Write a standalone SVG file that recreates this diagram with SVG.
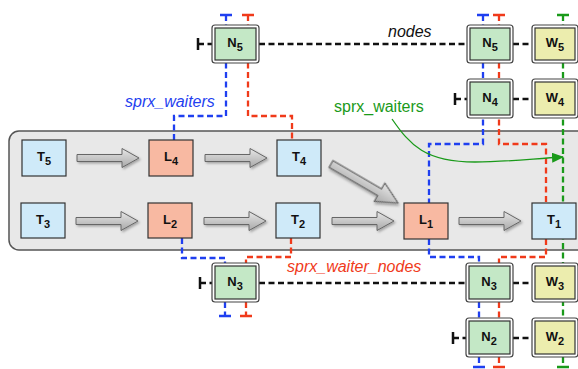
<svg xmlns="http://www.w3.org/2000/svg" width="578" height="369" viewBox="0 0 578 369">
  <defs>
    <linearGradient id="arrowFill" x1="0" y1="0" x2="0" y2="1">
      <stop offset="0" stop-color="#e6e6e6"/>
      <stop offset="1" stop-color="#a9a9a9"/>
    </linearGradient>
    <filter id="shadow" x="-20%" y="-30%" width="150%" height="170%">
      <feDropShadow dx="1.5" dy="1.5" stdDeviation="1" flood-color="#000" flood-opacity="0.3"/>
    </filter>
    <path id="blockArrow" d="M0,-3.5 H45 V-9.5 L62,0 L45,9.5 V3.5 H0 Z"/>
    <marker id="greenHead" viewBox="0 0 12 10" refX="11" refY="5" markerWidth="12" markerHeight="10" markerUnits="userSpaceOnUse" orient="auto">
      <path d="M0,0 L12,5 L0,10 Z" fill="#1a9a1a"/>
    </marker>
  </defs>
  <style>
    .lbl { font-family: "Liberation Sans", Arial, sans-serif; font-size: 13px; fill: #111; text-anchor: middle; font-weight: bold; }
    .sub { font-size: 11px; }
    .tbox { fill: #cfeaf9; stroke: #333; stroke-width: 1.2; }
    .lbox { fill: #f8b9a2; stroke: #333; stroke-width: 1.2; }
    .outer { fill: #fff; stroke: #444; stroke-width: 1.2; }
    .nbox { fill: #c4e8c6; stroke: #333; stroke-width: 1.2; }
    .wbox { fill: #ecedae; stroke: #333; stroke-width: 1.2; }
    .dk { fill: none; stroke: #111; stroke-width: 2.3; stroke-dasharray: 6 3.5; }
    .bl { fill: none; stroke: #1f3ff0; stroke-width: 2.3; stroke-dasharray: 6 3.5; }
    .rd { fill: none; stroke: #f03a1a; stroke-width: 2.3; stroke-dasharray: 6 3.5; }
    .gr { fill: none; stroke: #1a9a1a; stroke-width: 2.3; stroke-dasharray: 6 3.5; }
    .cap { fill: none; stroke-width: 2.5; }
    .arr { fill: url(#arrowFill); stroke: #666; stroke-width: 1; filter: url(#shadow); }
    .cap-txt { font-family: "Liberation Sans", Arial, sans-serif; font-size: 16px; }
  </style>

  <!-- container -->
  <rect x="9" y="131" width="590" height="119" rx="10" fill="#e8e8e8" stroke="#555" stroke-width="1.5"/>

  <g id="connectors">
    <!-- black chains -->
    <path class="dk" d="M198,44 H212 M259,44 H467 M513,44 H532"/>
    <path class="dk" d="M455,99 H467 M513,99 H532"/>
    <path class="dk" d="M200,283 H212 M259,283 H466 M513,283 H532"/>
    <path class="dk" d="M453,338 H466 M513,338 H532"/>
    <path class="cap" stroke="#111" d="M198,38 V50 M455,93 V105 M200,277 V289 M453,332 V344"/>

    <!-- blue: sprx_waiters -->
    <path class="bl" d="M226,15 V116 H174 V140"/>
    <path class="bl" d="M182,238 V258 H225 V263 M225,302 V316"/>
    <path class="bl" d="M483,15 V144 H429 V203 M429,239 V257 H479 V263 M479,302 V318 M479,357 V367"/>
    <path class="cap" stroke="#1f3ff0" d="M220,15 H232 M219,316 H231 M477,15 H489 M473,367 H485"/>

    <!-- red: sprx_waiter_nodes -->
    <path class="rd" d="M248,15 V116 H292 V140"/>
    <path class="rd" d="M291,238 V257 H246 V263 M246,302 V316"/>
    <path class="rd" d="M499,15 V144 H546 V203 M546,239 V257 H499 V263 M499,302 V318 M499,357 V367"/>
    <path class="cap" stroke="#f03a1a" d="M242,15 H254 M240,316 H252 M493,15 H505 M493,367 H505"/>

    <!-- green -->
    <path class="gr" d="M563,15 V367"/>
    <path class="cap" stroke="#1a9a1a" d="M557,15 H569 M557,367 H569"/>
    <path d="M392,119 C410,145 425,162 475,162 C505,162 530,159 563,157" fill="none" stroke="#1a9a1a" stroke-width="1.3" marker-end="url(#greenHead)"/>

    <!-- block arrows -->
    <use href="#blockArrow" class="arr" transform="translate(77,158)"/>
    <use href="#blockArrow" class="arr" transform="translate(76,221)"/>
    <use href="#blockArrow" class="arr" transform="translate(205,158)"/>
    <use href="#blockArrow" class="arr" transform="translate(204,221)"/>
    <use href="#blockArrow" class="arr" transform="translate(332,221)"/>
    <use href="#blockArrow" class="arr" transform="translate(459,221)"/>
    <use href="#blockArrow" class="arr" transform="translate(331,164) rotate(30.2) scale(1.25,1.1)"/>
  </g>

  <!-- thread / lock nodes -->
  <g id="T5"><rect class="tbox" x="22" y="140" width="44" height="36"/><text class="lbl" x="44" y="161">T<tspan class="sub" dy="4">5</tspan></text></g>
  <g id="L4"><rect class="lbox" x="149" y="140" width="44" height="36"/><text class="lbl" x="171" y="161">L<tspan class="sub" dy="4">4</tspan></text></g>
  <g id="T4"><rect class="tbox" x="277" y="140" width="44" height="36"/><text class="lbl" x="299" y="161">T<tspan class="sub" dy="4">4</tspan></text></g>
  <g id="T3"><rect class="tbox" x="21" y="203" width="44" height="35"/><text class="lbl" x="43" y="224">T<tspan class="sub" dy="4">3</tspan></text></g>
  <g id="L2"><rect class="lbox" x="148" y="203" width="44" height="35"/><text class="lbl" x="170" y="224">L<tspan class="sub" dy="4">2</tspan></text></g>
  <g id="T2"><rect class="tbox" x="276" y="203" width="44" height="35"/><text class="lbl" x="298" y="224">T<tspan class="sub" dy="4">2</tspan></text></g>
  <g id="L1"><rect class="lbox" x="404" y="203" width="44" height="36"/><text class="lbl" x="426" y="224">L<tspan class="sub" dy="4">1</tspan></text></g>
  <g id="T1"><rect class="tbox" x="532" y="203" width="44" height="36"/><text class="lbl" x="554" y="224">T<tspan class="sub" dy="4">1</tspan></text></g>

  <!-- waiter nodes -->
  <g id="N5a"><rect class="outer" x="212" y="25" width="47" height="38" rx="3"/><rect class="nbox" x="215" y="28" width="41" height="32"/><text class="lbl" x="235" y="47">N<tspan class="sub" dy="4">5</tspan></text></g>
  <g id="N3a"><rect class="outer" x="212" y="263" width="47" height="39" rx="3"/><rect class="nbox" x="215" y="266" width="41" height="33"/><text class="lbl" x="235" y="286">N<tspan class="sub" dy="4">3</tspan></text></g>
  <g id="N5b"><rect class="outer" x="467" y="25" width="46" height="38" rx="3"/><rect class="nbox" x="470" y="28" width="40" height="32"/><text class="lbl" x="490" y="47">N<tspan class="sub" dy="4">5</tspan></text></g>
  <g id="N4"><rect class="outer" x="467" y="79" width="46" height="39" rx="3"/><rect class="nbox" x="470" y="82" width="40" height="33"/><text class="lbl" x="490" y="102">N<tspan class="sub" dy="4">4</tspan></text></g>
  <g id="N3b"><rect class="outer" x="466" y="263" width="47" height="39" rx="3"/><rect class="nbox" x="469" y="266" width="41" height="33"/><text class="lbl" x="489" y="286">N<tspan class="sub" dy="4">3</tspan></text></g>
  <g id="N2"><rect class="outer" x="466" y="318" width="47" height="39" rx="3"/><rect class="nbox" x="469" y="321" width="41" height="33"/><text class="lbl" x="489" y="341">N<tspan class="sub" dy="4">2</tspan></text></g>
  <g id="W5"><rect class="outer" x="532" y="25" width="46" height="38" rx="3"/><rect class="wbox" x="535" y="28" width="40" height="32"/><text class="lbl" x="555" y="47">W<tspan class="sub" dy="4">5</tspan></text></g>
  <g id="W4"><rect class="outer" x="532" y="79" width="46" height="39" rx="3"/><rect class="wbox" x="535" y="82" width="40" height="33"/><text class="lbl" x="555" y="102">W<tspan class="sub" dy="4">4</tspan></text></g>
  <g id="W3"><rect class="outer" x="532" y="263" width="46" height="39" rx="3"/><rect class="wbox" x="535" y="266" width="40" height="33"/><text class="lbl" x="555" y="286">W<tspan class="sub" dy="4">3</tspan></text></g>
  <g id="W2"><rect class="outer" x="532" y="318" width="46" height="39" rx="3"/><rect class="wbox" x="535" y="321" width="40" height="33"/><text class="lbl" x="555" y="341">W<tspan class="sub" dy="4">2</tspan></text></g>

  <!-- captions -->
  <text class="cap-txt" x="388" y="37" font-style="italic" fill="#111">nodes</text>
  <text class="cap-txt" x="125" y="107" font-style="italic" fill="#1f3ff0">sprx_waiters</text>
  <text class="cap-txt" x="334" y="112" fill="#1a9a1a">sprx_waiters</text>
  <text class="cap-txt" x="287" y="272" font-style="italic" fill="#f03a1a">sprx_waiter_nodes</text>
</svg>
